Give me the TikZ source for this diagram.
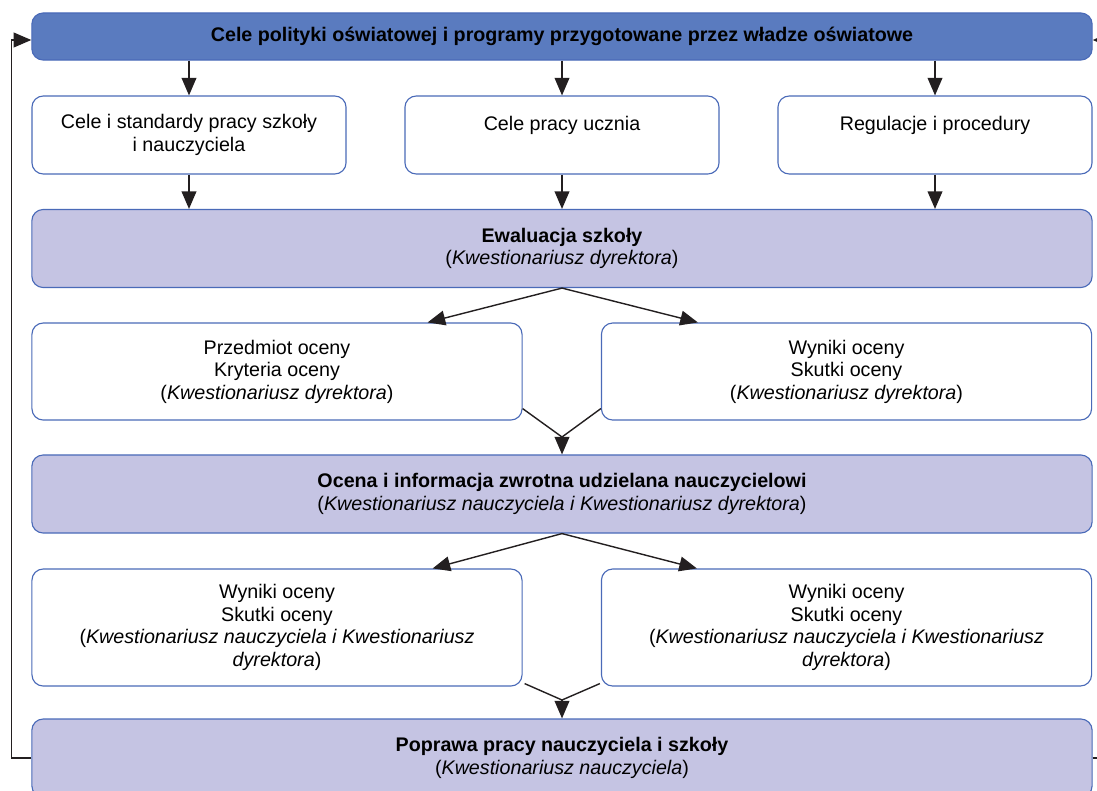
\documentclass[tikz,border=0pt]{standalone}
\usepackage{fontspec}
\setmainfont{Liberation Sans}
\usetikzlibrary{arrows.meta,calc}

\definecolor{topblue}{RGB}{90,123,191}
\definecolor{lavender}{RGB}{197,196,227}
\definecolor{edgeblue}{RGB}{74,106,184}
\definecolor{inkline}{RGB}{35,31,32}

\tikzset{
  box/.style={draw=edgeblue, line width=0.8pt, rounded corners=8pt, fill=white,
    align=center, inner sep=2pt, font=\fontsize{14}{16}\selectfont},
  headbox/.style={box, fill=topblue, minimum width=26.5cm, minimum height=1.175cm},
  stagebox/.style={box, fill=lavender, minimum width=26.5cm, minimum height=1.95cm},
  thirdbox/.style={box, minimum width=7.85cm, minimum height=1.95cm},
  halfbox/.style={box, minimum width=12.25cm},
  link/.style={draw=inkline, line width=1pt},
  arr/.style={link, -{Triangle[length=12.5pt,width=10.5pt]}}
}

\begin{document}
\begin{tikzpicture}[x=0.025cm, y=-0.025cm]
\useasboundingbox (0,0) rectangle (1097,790);

% rows of boxes
\node[headbox] (top) at (562,36.5) {\textbf{Cele polityki oświatowej i programy przygotowane przez władze oświatowe}};
\node[thirdbox] (c1) at (189,135) {Cele i standardy pracy szkoły\\i nauczyciela};
\node[thirdbox] (c2) at (562,135) {Cele pracy ucznia\\\phantom{I}};
\node[thirdbox] (c3) at (935,135) {Regulacje i procedury\\\phantom{I}};
\node[stagebox] (ewal) at (562,248.5) {\textbf{Ewaluacja szkoły}\\({\itshape Kwestionariusz dyrektora})};
\node[halfbox, minimum height=2.425cm] (p1) at (277,371.5) {Przedmiot oceny\\Kryteria oceny\\({\itshape Kwestionariusz dyrektora})};
\node[halfbox, minimum height=2.425cm] (p2) at (846.5,371.5) {Wyniki oceny\\Skutki oceny\\({\itshape Kwestionariusz dyrektora})};
\node[stagebox] (ocena) at (562,494) {\textbf{Ocena i informacja zwrotna udzielana nauczycielowi}\\({\itshape Kwestionariusz nauczyciela i Kwestionariusz dyrektora})};
\node[halfbox, minimum height=2.925cm] (w1) at (277,627.5) {Wyniki oceny\\Skutki oceny\\({\itshape Kwestionariusz nauczyciela i Kwestionariusz}\\{\itshape dyrektora})};
\node[halfbox, minimum height=2.925cm] (w2) at (846.5,627.5) {Wyniki oceny\\Skutki oceny\\({\itshape Kwestionariusz nauczyciela i Kwestionariusz}\\{\itshape dyrektora})};
\node[stagebox] (popr) at (562,758) {\textbf{Poprawa pracy nauczyciela i szkoły}\\({\itshape Kwestionariusz nauczyciela})};

% straight arrows
\foreach \c in {c1,c2,c3} {
  \draw[arr] (top.south -| \c.north) -- (\c.north);
  \draw[arr] (\c.south) -- (\c.south |- ewal.north);
}

% split arrows
\draw[arr] (ewal.south) -- ($(p1.north east)+(-95,0)$);
\draw[arr] (ewal.south) -- ($(p2.north west)+(97,0)$);
\draw[arr] (ocena.south) -- ($(w1.north east)+(-90,0)$);
\draw[arr] (ocena.south) -- ($(w2.north west)+(96,0)$);

% merging arrows
\coordinate (m1) at (562,437);
\coordinate (m2) at (562,700);
\draw[link] ($(p1.south east)+(0,-12)$) -- (m1) -- ($(p2.south west)+(0,-12)$);
\draw[arr] (m1) -- (m1 |- ocena.north);
\draw[link] ($(w1.south east)+(2,-3)$) -- (m2) -- ($(w2.south west)+(-1,-3)$);
\draw[arr] (m2) -- (m2 |- popr.north);

% feedback loops
\draw[arr] (popr.west) -- ++(-20,0) |- ($(top.west)+(0,3.5)$);
\draw[arr] (popr.east) -- ++(20,0) |- ($(top.east)+(0,3.5)$);
\end{tikzpicture}
\end{document}
